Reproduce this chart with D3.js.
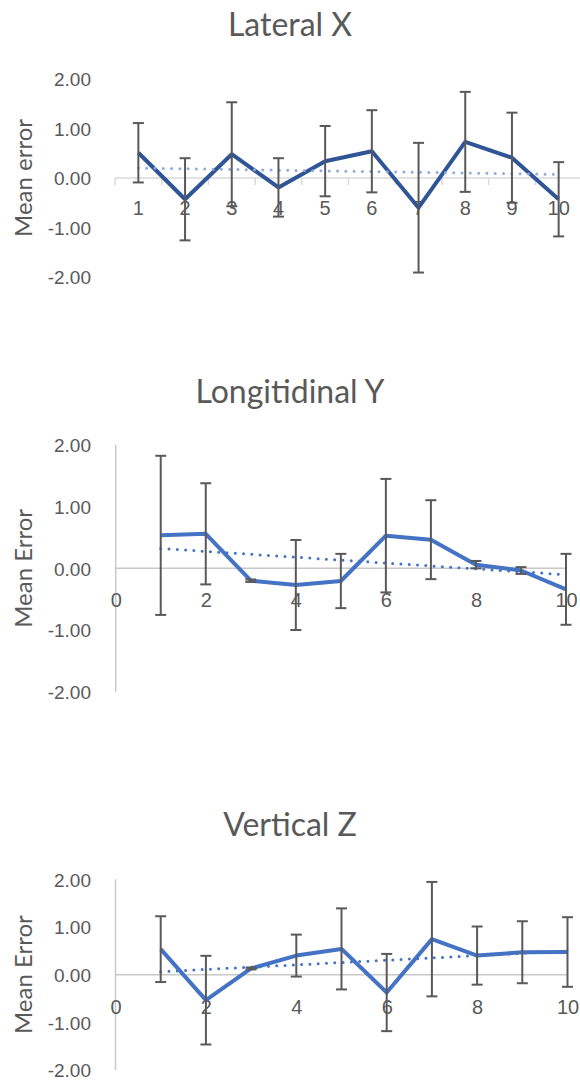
<!DOCTYPE html>
<html>
<head>
<meta charset="utf-8">
<script src="https://cdn.jsdelivr.net/npm/d3@7"></script>
<style>
    body { margin: 0; background: #fff; }
    svg { display: block; font-family: Lato, "Open Sans", sans-serif; }
    text { fill: #595959; }
</style>
</head>
<body>
<svg width="580" height="1081"></svg>
<script>
const runs = [1, 2, 3, 4, 5, 6, 7, 8, 9, 10];
const runLabels = ["1", "2", "3", "4", "5", "6", "7", "8", "9", "10"];
const yTicks = [-2, -1, 0, 1, 2];
const xValueTicks = [0, 2, 4, 6, 8, 10];

const lateralX = [0.51, -0.43, 0.48, -0.19, 0.34, 0.54, -0.60, 0.73, 0.41, -0.43];
const lateralXErr = [0.60, 0.83, 1.05, 0.59, 0.71, 0.83, 1.31, 1.01, 0.91, 0.75];

const longitudinalY = [0.535, 0.56, -0.20, -0.27, -0.205, 0.53, 0.465, 0.06, -0.035, -0.34];
const longitudinalYErr = [1.29, 0.82, 0.02, 0.73, 0.44, 0.92, 0.64, 0.06, 0.055, 0.575];

const verticalZ = [0.535, -0.535, 0.13, 0.40, 0.54, -0.375, 0.745, 0.40, 0.47, 0.475];
const verticalZErr = [0.69, 0.93, 0.02, 0.44, 0.85, 0.81, 1.20, 0.61, 0.65, 0.73];

const svg = d3.select("svg");
const fmt = d => d.toFixed(2);

// least squares trend, like excel's linear trendline
function trend(xs, ys) {
    const mx = d3.mean(xs), my = d3.mean(ys);
    const slope = d3.sum(xs, (x, i) => (x - mx) * (ys[i] - my)) / d3.sum(xs, x => (x - mx) * (x - mx));
    return x => my + slope * (x - mx);
}

function drawChart(opt) {
    const g = svg.append("g");
    const x = opt.x;
    const y = opt.y;
    const [yBottom, yTop] = y.range();

    g.append("text")
        .attr("x", 290)
        .attr("y", opt.titleY)
        .attr("text-anchor", "middle")
        .attr("font-size", 32)
        .text(opt.title);

    g.append("text")
        .attr("transform", `translate(22,${(yTop + yBottom) / 2}) rotate(-90)`)
        .attr("text-anchor", "middle")
        .attr("dominant-baseline", "central")
        .attr("font-size", 24)
        .text(opt.yTitle);

    const yAxis = g.append("g")
        .attr("transform", "translate(94,0)")
        .call(d3.axisLeft(y).tickValues(yTicks).tickSize(0).tickPadding(3).tickFormat(fmt));
    yAxis.select(".domain").remove();
    yAxis.selectAll("text").attr("font-size", 19).attr("font-family", null).attr("dy", "0.36em");

    const px = opt.px;
    const y0 = y(0);

    if (opt.category) {
        const [x0, x1] = x.range();
        g.append("line")
            .attr("x1", x0).attr("x2", x1)
            .attr("y1", y0).attr("y2", y0)
            .attr("stroke", "#D9D9D9").attr("stroke-width", 1.5);
        g.selectAll(".tick-mark")
            .data(runs.concat([null]))
            .join("line")
            .attr("x1", (d, i) => x0 + i * x.step())
            .attr("x2", (d, i) => x0 + i * x.step())
            .attr("y1", y0).attr("y2", y0 + 7)
            .attr("stroke", "#D9D9D9").attr("stroke-width", 1.5);
        const xAxis = g.append("g")
            .attr("transform", `translate(0,${y0})`)
            .call(d3.axisBottom(x).tickSize(0).tickPadding(0).tickFormat((d, i) => runLabels[i]));
        xAxis.select(".domain").remove();
        xAxis.selectAll("text").attr("font-size", 20).attr("font-family", null).attr("dy", "1.85em");
    } else {
        g.append("line")
            .attr("x1", x(0)).attr("x2", x(0))
            .attr("y1", yTop).attr("y2", yBottom)
            .attr("stroke", "#C8C8C8").attr("stroke-width", 1.5);
        g.append("line")
            .attr("x1", x(0)).attr("x2", x(10))
            .attr("y1", y0).attr("y2", y0)
            .attr("stroke", "#C8C8C8").attr("stroke-width", 1.5);
        const xAxis = g.append("g")
            .attr("transform", `translate(0,${y0})`)
            .call(d3.axisBottom(x).tickValues(xValueTicks).tickSize(0).tickPadding(0));
        xAxis.select(".domain").remove();
        xAxis.selectAll("text").attr("font-size", 20).attr("font-family", null).attr("dy", "1.95em");
    }

    const pts = runs.map((r, i) => ({ r, v: opt.values[i], e: opt.errors[i] }));

    g.append("path")
        .datum(pts)
        .attr("fill", "none")
        .attr("stroke", opt.color)
        .attr("stroke-width", 4)
        .attr("stroke-linejoin", "round")
        .attr("d", d3.line().x(d => px(d.r)).y(d => y(d.v)));

    const t = trend(runs, opt.values);
    g.append("line")
        .attr("x1", px(1)).attr("y1", y(t(1)))
        .attr("x2", px(10)).attr("y2", y(t(10)))
        .attr("stroke", opt.trendColor)
        .attr("stroke-width", 3)
        .attr("stroke-linecap", "round")
        .attr("stroke-dasharray", "0 8.3");

    const bars = g.append("g")
        .attr("stroke", "#595959")
        .attr("stroke-width", 2)
        .selectAll("g")
        .data(pts)
        .join("g");
    bars.append("line")
        .attr("x1", d => px(d.r)).attr("x2", d => px(d.r))
        .attr("y1", d => y(d.v + d.e)).attr("y2", d => y(d.v - d.e));
    bars.append("line")
        .attr("x1", d => px(d.r) - 5.5).attr("x2", d => px(d.r) + 5.5)
        .attr("y1", d => y(d.v + d.e)).attr("y2", d => y(d.v + d.e));
    bars.append("line")
        .attr("x1", d => px(d.r) - 5.5).attr("x2", d => px(d.r) + 5.5)
        .attr("y1", d => y(d.v - d.e)).attr("y2", d => y(d.v - d.e));
}

const xBand = d3.scaleBand().domain(runs).range([115, 582]);
drawChart({
    title: "Lateral X",
    titleY: 36,
    yTitle: "Mean error",
    category: true,
    x: xBand,
    px: r => xBand(r) + xBand.bandwidth() / 2,
    y: d3.scaleLinear().domain([-2, 2]).range([277, 79]),
    values: lateralX,
    errors: lateralXErr,
    color: "#2F5597",
    trendColor: "#8FAADC"
});

const xMid = d3.scaleLinear().domain([0, 10]).range([115.7, 566]);
drawChart({
    title: "Longitidinal Y",
    titleY: 403,
    yTitle: "Mean Error",
    category: false,
    x: xMid,
    px: xMid,
    y: d3.scaleLinear().domain([-2, 2]).range([691.7, 445]),
    values: longitudinalY,
    errors: longitudinalYErr,
    color: "#4472C4",
    trendColor: "#4472C4"
});

const xLow = d3.scaleLinear().domain([0, 10]).range([115.5, 567.5]);
drawChart({
    title: "Vertical Z",
    titleY: 836,
    yTitle: "Mean Error",
    category: false,
    x: xLow,
    px: xLow,
    y: d3.scaleLinear().domain([-2, 2]).range([1070, 879.3]),
    values: verticalZ,
    errors: verticalZErr,
    color: "#4472C4",
    trendColor: "#4472C4"
});
</script>
</body>
</html>
